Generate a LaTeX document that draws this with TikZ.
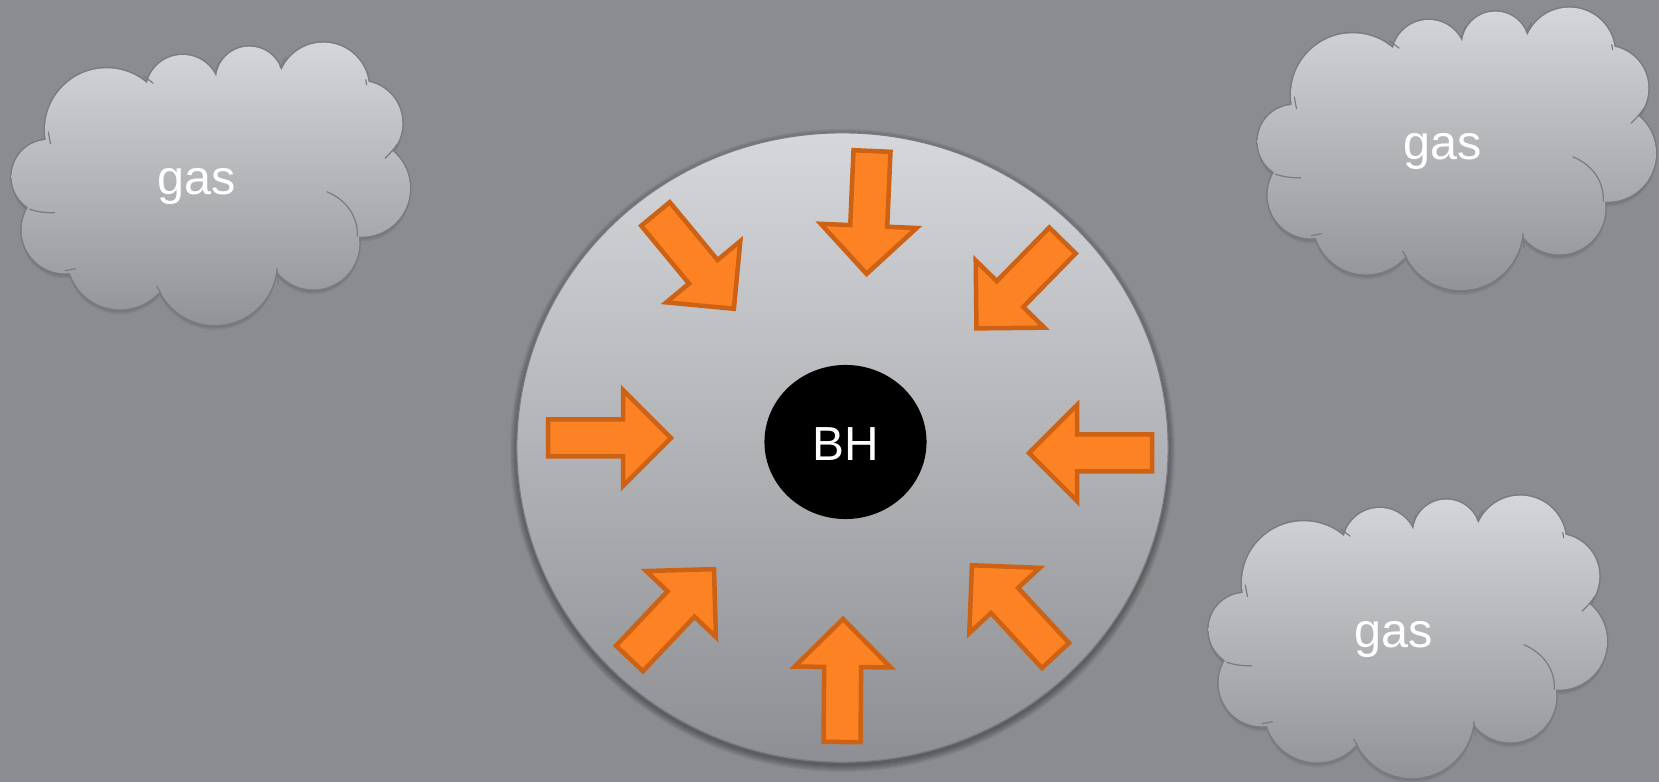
\documentclass[tikz,border=0pt]{standalone}
\usepackage{fontspec}
\newfontfamily\arialfont{Liberation Sans}
\usetikzlibrary{shapes.geometric}
\definecolor{bgc}{RGB}{139,140,144}
\definecolor{topc}{RGB}{213,214,217}
\definecolor{botc}{RGB}{146,147,151}
\definecolor{disktop}{RGB}{214,215,218}
\definecolor{diskbot}{RGB}{142,143,147}
\definecolor{edgec}{RGB}{122,123,127}
\definecolor{arrfill}{RGB}{252,130,35}
\definecolor{arredge}{RGB}{205,97,20}
\def\cloudpath{(320,300) circle[radius=185] (548,185) circle[radius=110] (748,150) circle[radius=100] (970,175) circle[radius=137] (1080,280) circle[radius=127] (1085,475) circle[radius=145] (940,640) circle[radius=138] (645,700) circle[radius=185] (360,680) circle[radius=158] (195,600) circle[radius=130] (145,440) circle[radius=110] (830,240) circle[radius=90] (640,460) ellipse[x radius=430, y radius=270]}
\newcommand\inarrow[3]{\draw[arrowsty, shift={(#1,#2)}, rotate=#3] (0,-18.5) -- (75,-18.5) -- (75,-48) -- (123,0) -- (75,48) -- (75,18.5) -- (0,18.5) -- cycle;}
\tikzset{
  arrowsty/.style={fill=arrfill, draw=arredge, line width=0.045cm, miter limit=10},
  hint/.style={draw=edgec, line width=0.012cm},
  gastext/.style={text=white, font=\arialfont\fontsize{13.8}{16}\selectfont, inner sep=0pt, anchor=base},
  pics/gascloud/.style={code={
    \begin{scope}[scale=1/3]
      \foreach \k in {3,7,11,15} {\fill[black, opacity=.05, shift={(0,\k)}] \cloudpath;}
      \draw[edgec, line width=0.03cm] \cloudpath;
      \shade[top color=topc, bottom color=botc] \cloudpath;
      \draw[hint] (980,485) .. controls (1040,510) and (1075,560) .. (1072,620);
      \draw[hint] (88,537) .. controls (110,546) and (140,549) .. (165,548);
      \draw[hint] (470,768) .. controls (478,780) and (485,795) .. (488,810);
      \draw[hint] (830,715) .. controls (833,730) and (834,745) .. (834,760);
      \draw[hint] (1155,385) .. controls (1170,370) and (1182,358) .. (1192,342);
      \draw[hint] (840,112) .. controls (846,100) and (852,90) .. (858,82);
      \draw[hint] (648,124) .. controls (651,112) and (654,103) .. (658,95);
      \draw[hint] (430,138) .. controls (440,145) and (450,152) .. (460,160);
      \draw[hint] (145,305) .. controls (147,318) and (149,330) .. (152,342);
      \draw[hint] (195,722) .. controls (205,720) and (216,718) .. (228,716);
      \draw[hint] (1097,148) .. controls (1098,153) and (1099,158) .. (1100,165);
      \node[gastext] (-label) at (590,495) {gas};
    \end{scope}
  }}
}
\begin{document}
\begin{tikzpicture}[x=0.01cm, y=-0.01cm]
\useasboundingbox (0,0) rectangle (1659,782);
\fill[bgc] (0,0) rectangle (1659,782);
% clouds
\pic (c1) at (0,30) {gascloud};
\pic (c2) at (1246,-5) {gascloud};
\pic (c3) at (1197,483) {gascloud};
% disk with soft shadow
\foreach \k in {1,...,7} {\fill[black, opacity=.05] (842.5,450.5) ellipse[x radius=325.5+\k, y radius=314.5+\k];}
\node[ellipse, draw=edgec, line width=0.012cm, top color=disktop, bottom color=diskbot,
      minimum width=6.51cm, minimum height=6.29cm, inner sep=0pt] (disk) at (842.5,447.5) {};
% black hole
\node[ellipse, fill=black, minimum width=1.62cm, minimum height=1.54cm, inner sep=0pt] (bh) at (845.5,442) {};
\node[text=white, font=\arialfont\fontsize{13.6}{16}\selectfont, inner sep=0pt, anchor=base] (bhlabel) at (845.5,461) {BH};
% arrows
\inarrow{548}{438}{0}
\inarrow{1152}{453}{180}
\inarrow{872}{151}{-92.5}
\inarrow{842}{742}{89.5}
\inarrow{655.5}{214}{-50.4}
\inarrow{1062.5}{240.5}{-134.4}
\inarrow{629.5}{658.5}{46.6}
\inarrow{1055.5}{655.5}{132.8}
\end{tikzpicture}
\end{document}
